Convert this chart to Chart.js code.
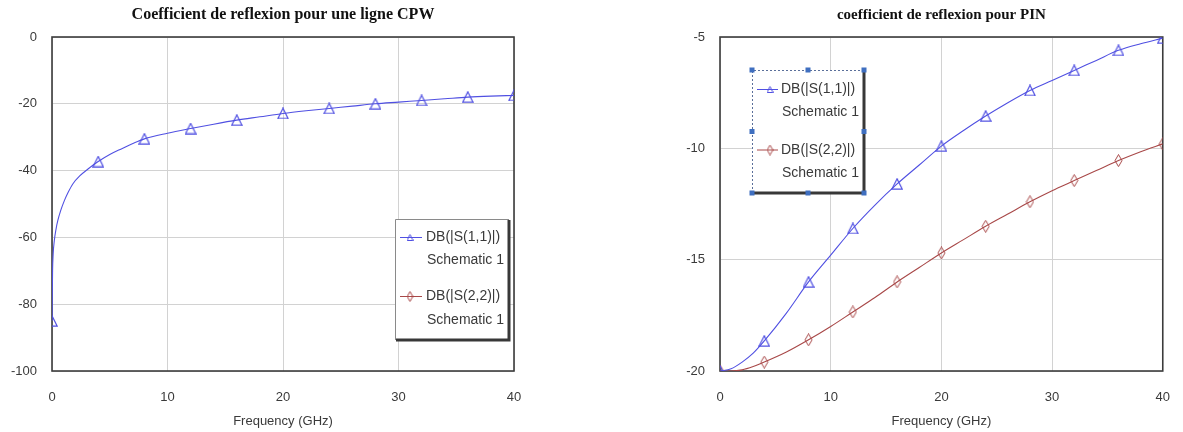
<!DOCTYPE html>
<html>
<head>
<meta charset="utf-8">
<script src="https://cdn.jsdelivr.net/npm/chart.js@4.4.1/dist/chart.umd.min.js"></script>
<style>
  html, body { margin: 0; padding: 0; background: #ffffff; }
  body { width: 1183px; height: 432px; position: relative; overflow: hidden; }
  .box { position: absolute; top: 0; height: 432px; }
  #leftBox { left: 0; width: 560px; }
  #rightBox { left: 620px; width: 569px; }
</style>
</head>
<body>
<div class="box" id="leftBox"><canvas id="cpw"></canvas></div>
<div class="box" id="rightBox"><canvas id="pin"></canvas></div>
<script>
// ---------- Data ----------
const cpwTitle = "Coefficient de reflexion pour une ligne CPW";
const pinTitle = "coefficient de reflexion pour PIN";
const xAxisTitle = "Frequency (GHz)";

// Left chart: CPW line, DB(|S(1,1)|)
const cpwFreq = [0, 0.05, 0.1, 0.2, 0.35, 0.5, 0.75, 1.07, 1.4, 1.8, 2.4, 3.2, 4, 5, 6, 7, 8, 10, 12, 14, 16, 18, 20, 22, 24, 26, 28, 30, 32, 34, 36, 38, 40];
const cpwS11  = [-85, -70, -65, -61, -57.5, -55, -52, -49, -46.5, -44, -41.6, -39.3, -37.3, -35.2, -33.5, -31.9, -30.5, -28.8, -27.4, -26.1, -24.9, -23.9, -22.9, -22.1, -21.4, -20.7, -20.0, -19.5, -19.0, -18.5, -18.0, -17.7, -17.5];
const cpwS22  = []; // listed in the legend, not visible inside the plotted range

// Right chart: PIN
const pinFreq = [0, 1, 2, 3, 4, 6, 8, 10, 12, 14, 16, 18, 20, 22, 24, 26, 28, 30, 32, 34, 36, 38, 40];
const pinS11  = [-20, -19.9, -19.6, -19.2, -18.65, -17.4, -16.0, -14.8, -13.6, -12.55, -11.6, -10.75, -9.9, -9.2, -8.55, -7.95, -7.4, -6.95, -6.5, -6.05, -5.6, -5.3, -5.05];
const pinS22  = [-20, -20, -19.95, -19.8, -19.6, -19.15, -18.6, -18.0, -17.35, -16.7, -16.0, -15.35, -14.7, -14.1, -13.5, -12.95, -12.4, -11.9, -11.45, -11.0, -10.55, -10.15, -9.8];

const xTicks = [0, 10, 20, 30, 40];
const cpwYTicks = [0, -20, -40, -60, -80, -100];
const pinYTicks = [-5, -10, -15, -20];

const legendLabels = [
  ["DB(|S(1,1)|)", "Schematic 1"],
  ["DB(|S(2,2)|)", "Schematic 1"]
];

// ---------- Styling ----------
const BLUE = '#5050e2';
const RED = '#a84848';
const GRID = '#d2d2d2';
const FRAME = '#3c3c3c';
const TEXT = '#3a3a3a';
const SANS = "'Liberation Sans', Arial, sans-serif";
const SERIF = "'Liberation Serif', 'Times New Roman', serif";

function makeDiamond(color) {
  const c = document.createElement('canvas');
  c.width = 9; c.height = 13;
  const g = c.getContext('2d');
  g.strokeStyle = color; g.lineWidth = 1;
  g.beginPath();
  g.moveTo(4.5, 0.5); g.lineTo(8, 6.5); g.lineTo(4.5, 12.5); g.lineTo(1, 6.5); g.closePath();
  g.stroke();
  return c;
}
function makeTriangle(color) {
  const c = document.createElement('canvas');
  c.width = 12; c.height = 12;
  const g = c.getContext('2d');
  g.strokeStyle = color; g.lineWidth = 1.2;
  g.beginPath();
  g.moveTo(6, 0.8); g.lineTo(11.2, 11.2); g.lineTo(0.8, 11.2); g.closePath();
  g.stroke();
  return c;
}
const triImg = makeTriangle(BLUE);
const diaImg = makeDiamond(RED);
const triSmall = (() => { const c = document.createElement('canvas'); c.width = 7; c.height = 7; const g = c.getContext('2d'); g.strokeStyle = BLUE; g.lineWidth = 1; g.beginPath(); g.moveTo(3.5,0.5); g.lineTo(6.5,6.5); g.lineTo(0.5,6.5); g.closePath(); g.stroke(); return c; })();
const diaSmall = (() => { const c = document.createElement('canvas'); c.width = 7; c.height = 11; const g = c.getContext('2d'); g.strokeStyle = RED; g.lineWidth = 1; g.beginPath(); g.moveTo(3.5,0.5); g.lineTo(6.3,5.5); g.lineTo(3.5,10.5); g.lineTo(0.7,5.5); g.closePath(); g.stroke(); return c; })();

function pts(xs, ys) { return ys.map((v, i) => ({ x: xs[i], y: v })); }
function markerRadius(ctx) {
  const r = ctx.raw;
  return (r && r.x % 4 === 0) ? 5 : 0;
}

// Frame around the plot area
const framePlugin = {
  id: 'frame',
  beforeDatasetsDraw(chart) {
    const { ctx, chartArea: a } = chart;
    ctx.save();
    ctx.strokeStyle = FRAME;
    ctx.lineWidth = 1.6;
    ctx.strokeRect(a.left, a.top, a.right - a.left, a.bottom - a.top);
    ctx.restore();
  }
};

// Boxed two-line legend
const boxLegendPlugin = {
  id: 'boxLegend',
  afterDraw(chart, args, o) {
    if (!o || !o.box) return;
    const ctx = chart.ctx;
    const b = o.box;
    ctx.save();
    ctx.fillStyle = '#ffffff';
    ctx.fillRect(b.x, b.y, b.w, b.h);
    if (o.selected) {
      ctx.strokeStyle = '#5a6f9a';
      ctx.lineWidth = 1;
      ctx.setLineDash([2, 2]);
      ctx.beginPath();
      ctx.moveTo(b.x + 0.5, b.y + b.h); ctx.lineTo(b.x + 0.5, b.y + 0.5); ctx.lineTo(b.x + b.w, b.y + 0.5);
      ctx.stroke();
      ctx.setLineDash([]);
    } else {
      ctx.strokeStyle = '#8a8a8a';
      ctx.lineWidth = 1;
      ctx.beginPath();
      ctx.moveTo(b.x + 0.5, b.y + b.h); ctx.lineTo(b.x + 0.5, b.y + 0.5); ctx.lineTo(b.x + b.w, b.y + 0.5);
      ctx.stroke();
    }
    // shadowed right and bottom edges
    ctx.strokeStyle = '#383838';
    ctx.lineWidth = 3;
    ctx.beginPath();
    ctx.moveTo(b.x + b.w, b.y + 1); ctx.lineTo(b.x + b.w, b.y + b.h); ctx.lineTo(b.x + 1, b.y + b.h);
    ctx.stroke();
    if (o.selected) {
      ctx.fillStyle = '#3f6fc0';
      const hs = [[b.x, b.y], [b.x + b.w / 2, b.y], [b.x + b.w, b.y],
                  [b.x, b.y + b.h / 2], [b.x + b.w, b.y + b.h / 2],
                  [b.x, b.y + b.h], [b.x + b.w / 2, b.y + b.h], [b.x + b.w, b.y + b.h]];
      hs.forEach(([hx, hy]) => ctx.fillRect(hx - 2.5, hy - 2.5, 5, 5));
    }
    // entries
    ctx.font = '14px ' + SANS;
    ctx.textBaseline = 'middle';
    ctx.textAlign = 'left';
    o.items.forEach((it, i) => {
      const y1 = b.y + o.rows[i][0];
      const y2 = b.y + o.rows[i][1];
      ctx.strokeStyle = it.color;
      ctx.lineWidth = 1;
      ctx.beginPath();
      ctx.moveTo(b.x + o.lineX[0], y1); ctx.lineTo(b.x + o.lineX[1], y1);
      ctx.stroke();
      const img = it.img;
      ctx.drawImage(img, b.x + o.markX - img.width / 2, y1 - img.height / 2);
      ctx.fillStyle = TEXT;
      ctx.fillText(it.text[0], b.x + o.textX, y1);
      ctx.fillText(it.text[1], b.x + o.textX + 1, y2);
    });
    ctx.restore();
  }
};

function makeOptions(title, titleSize, yMin, yMax, yWidth, padRight, legend) {
  return {
    responsive: false,
    animation: false,
    devicePixelRatio: 1,
    layout: { padding: { left: 0, right: padRight, top: 0, bottom: 0 } },
    plugins: {
      legend: { display: false },
      tooltip: { enabled: false },
      title: {
        display: true,
        text: title,
        fullSize: false,
        color: '#111111',
        font: { family: SERIF, size: titleSize, weight: 'bold', lineHeight: 1.2 },
        padding: { top: 17.2 - titleSize * 0.6 - 2, bottom: 37 - (17.2 - titleSize * 0.6 - 2) - titleSize * 1.2 }
      },
      boxLegend: legend
    },
    scales: {
      x: {
        type: 'linear',
        min: 0, max: 40,
        afterBuildTicks: (s) => { s.ticks = xTicks.map(v => ({ value: v })); },
        afterFit: (s) => { s.height = 61; },
        grid: { color: GRID, lineWidth: 1, drawTicks: false },
        border: { display: false },
        ticks: { color: TEXT, font: { family: SANS, size: 13 }, padding: 19, maxRotation: 0, autoSkip: false },
        title: { display: true, text: xAxisTitle, color: TEXT, font: { family: SANS, size: 13 }, padding: { top: 8, bottom: 3 } }
      },
      y: {
        type: 'linear',
        min: yMin, max: yMax,
        afterBuildTicks: (s) => { s.ticks = (yMin === -100 ? cpwYTicks : pinYTicks).map(v => ({ value: v })); },
        afterFit: (s) => { s.width = yWidth; },
        grid: { color: GRID, lineWidth: 1, drawTicks: false },
        border: { display: false },
        ticks: { color: TEXT, font: { family: SANS, size: 13 }, padding: 15 }
      }
    }
  };
}

function lineDataset(label, xs, ys, color, img) {
  return {
    label: label,
    data: pts(xs, ys),
    borderColor: color,
    borderWidth: 1.1,
    backgroundColor: 'rgba(0,0,0,0)',
    pointStyle: img,
    pointRadius: markerRadius,
    pointHoverRadius: 0,
    cubicInterpolationMode: 'monotone',
    fill: false
  };
}

// Left chart
document.getElementById('cpw').width = 560;
document.getElementById('cpw').height = 432;
new Chart(document.getElementById('cpw'), {
  type: 'line',
  data: {
    datasets: [
      lineDataset(legendLabels[0][0], cpwFreq, cpwS11, BLUE, triImg),
      lineDataset(legendLabels[1][0], [], cpwS22, RED, diaImg)
    ]
  },
  options: makeOptions(cpwTitle, 16, -100, 0, 52, 46, {
    box: { x: 395, y: 219, w: 114, h: 121 },
    selected: false,
    lineX: [5, 27], markX: 15, textX: 31,
    rows: [[18.5, 41], [77.5, 101]],
    items: [
      { color: BLUE, img: triSmall, text: legendLabels[0] },
      { color: RED, img: diaSmall, text: legendLabels[1] }
    ]
  }),
  plugins: [framePlugin, boxLegendPlugin]
});

// Right chart
document.getElementById('pin').width = 569;
document.getElementById('pin').height = 432;
new Chart(document.getElementById('pin'), {
  type: 'line',
  data: {
    datasets: [
      lineDataset(legendLabels[0][0], pinFreq, pinS11, BLUE, triImg),
      lineDataset(legendLabels[1][0], pinFreq, pinS22, RED, diaImg)
    ]
  },
  options: makeOptions(pinTitle, 15, -20, -5, 100, 14, {
    box: { x: 132, y: 70, w: 112, h: 123 },
    selected: true,
    lineX: [5, 26], markX: 18, textX: 29,
    rows: [[19.5, 42], [80, 103]],
    items: [
      { color: BLUE, img: triSmall, text: legendLabels[0] },
      { color: RED, img: diaSmall, text: legendLabels[1] }
    ]
  }),
  plugins: [framePlugin, boxLegendPlugin]
});
</script>
</body>
</html>
